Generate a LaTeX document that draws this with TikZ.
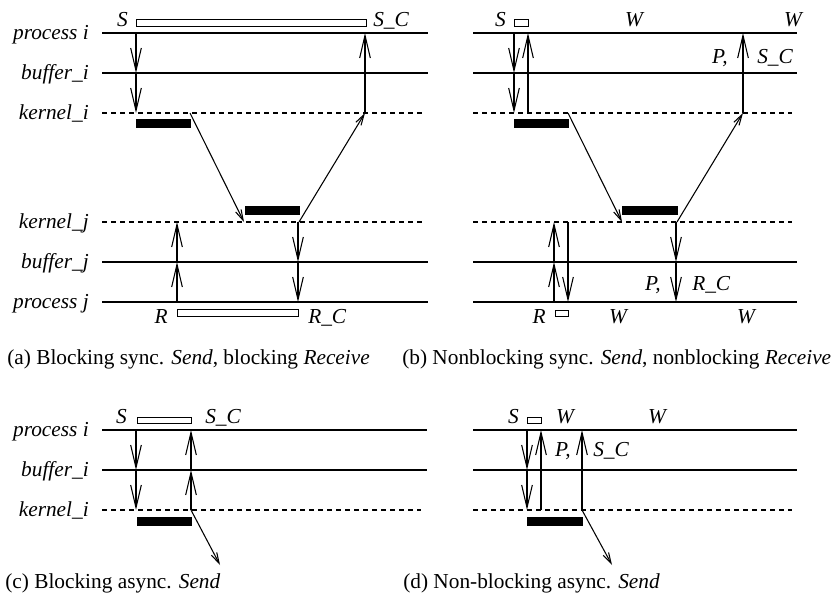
\documentclass[tikz,border=0pt]{standalone}
\usepackage{fontspec}
\setmainfont{Liberation Serif}
\usetikzlibrary{arrows.meta}

\begin{document}
\begin{tikzpicture}[x=0.75pt,y=0.75pt,yscale=-1,xscale=1,
	proc/.style={line width=1pt},
	kern/.style={line width=0.9pt, dash pattern=on 3.75pt off 3pt},
	msg/.style={line width=0.8pt, -{Straight Barb[length=17pt,width=8pt]}},
	net/.style={line width=0.8pt, -{Straight Barb[length=8pt,width=4.5pt]}},
	busy/.style={fill=black},
	idle/.style={draw, fill=white, line width=0.7pt},
	lbl/.style={font=\fontsize{16}{18}\selectfont\itshape, inner sep=0pt},
	capt/.style={font=\fontsize{16}{18}\selectfont, inner sep=0pt, anchor=base west}]
	\useasboundingbox (0,0) rectangle (839,600);
	
	%%% (a) blocking sync send, blocking receive
	%Straight Lines
	\draw [proc] (102,33) -- (428,33) ;
	\draw [proc] (102,73) -- (428,73) ;
	\draw [kern] (102,113) -- (422,113) ;
	\draw [kern] (102,222) -- (422,222) ;
	\draw [proc] (102,262) -- (428,262) ;
	\draw [proc] (102,302) -- (428,302) ;
	% Text Node
	\node (pia) [lbl, anchor=base east] at (89,39) {process i};
	\node (bia) [lbl, anchor=base east] at (89,79) {buffer\_i};
	\node (kia) [lbl, anchor=base east] at (89,119) {kernel\_i};
	\node (kja) [lbl, anchor=base east] at (89,228) {kernel\_j};
	\node (bja) [lbl, anchor=base east] at (89,268) {buffer\_j};
	\node (pja) [lbl, anchor=base east] at (89,308) {process j};
	%Shape: Rectangle
	\draw [idle] (136,19) rectangle (366,26) ;
	\draw [busy] (136,119) rectangle (190,127) ;
	\draw [busy] (245,206) rectangle (299,214) ;
	\draw [idle] (177,309) rectangle (298,316) ;
	%Arrows
	\draw [msg] (136,33) -- (136,73) ;
	\draw [msg] (136,73) -- (136,113) ;
	\draw [net] (190,113) -- (244,222) ;
	\draw [net] (299,222) -- (365,113) ;
	\draw [msg] (365,113) -- (365,33) ;
	\draw [msg] (177,302) -- (177,262) ;
	\draw [msg] (177,262) -- (177,222) ;
	\draw [msg] (298,222) -- (298,262) ;
	\draw [msg] (298,262) -- (298,302) ;
	% Text Node
	\node (sa) [lbl, anchor=base east] at (128,26) {S};
	\node (sca) [lbl, anchor=base west] at (373,26) {S\_C};
	\node (ra) [lbl, anchor=base east] at (168,323) {R};
	\node (rca) [lbl, anchor=base west] at (308,323) {R\_C};
	\node (capa) [capt] at (7,364) {(a) Blocking sync. \textit{Send}, blocking \textit{Receive}};
	
	%%% (b) nonblocking sync send, nonblocking receive
	%Straight Lines
	\draw [proc] (473,33) -- (797,33) ;
	\draw [proc] (473,73) -- (797,73) ;
	\draw [kern] (473,113) -- (792,113) ;
	\draw [kern] (473,222) -- (792,222) ;
	\draw [proc] (473,262) -- (797,262) ;
	\draw [proc] (473,302) -- (797,302) ;
	%Shape: Rectangle
	\draw [idle] (514,19) rectangle (528,26) ;
	\draw [busy] (514,119) rectangle (568,127) ;
	\draw [busy] (622,206) rectangle (677,214) ;
	\draw [idle] (555,310) rectangle (568,316) ;
	%Arrows
	\draw [msg] (514,33) -- (514,73) ;
	\draw [msg] (514,73) -- (514,113) ;
	\draw [msg] (528,113) -- (528,33) ;
	\draw [net] (568,113) -- (622,222) ;
	\draw [net] (677,222) -- (743,113) ;
	\draw [msg] (743,113) -- (743,33) ;
	\draw [msg] (554,302) -- (554,262) ;
	\draw [msg] (554,262) -- (554,222) ;
	\draw [msg] (568,222) -- (568,302) ;
	\draw [msg] (676,222) -- (676,262) ;
	\draw [msg] (676,262) -- (676,302) ;
	% Text Node
	\node (sb) [lbl, anchor=base east] at (506,26) {S};
	\node (wb1) [lbl, anchor=base] at (634,26) {W};
	\node (wb2) [lbl, anchor=base] at (793,26) {W};
	\node (pb1) [lbl, anchor=base east] at (728,63) {P,};
	\node (scb) [lbl, anchor=base west] at (757,63) {S\_C};
	\node (rb) [lbl, anchor=base east] at (546,323) {R};
	\node (wb3) [lbl, anchor=base] at (618,323) {W};
	\node (wb4) [lbl, anchor=base] at (746,323) {W};
	\node (pb2) [lbl, anchor=base east] at (661,290) {P,};
	\node (rcb) [lbl, anchor=base west] at (692,290) {R\_C};
	\node (capb) [capt] at (402,364) {(b) Nonblocking sync. \textit{Send}, nonblocking \textit{Receive}};
	
	%%% (c) blocking async send
	%Straight Lines
	\draw [proc] (102,430) -- (427,430) ;
	\draw [proc] (102,470) -- (427,470) ;
	\draw [kern] (102,510) -- (421,510) ;
	\node (pic) [lbl, anchor=base east] at (89,436) {process i};
	\node (bic) [lbl, anchor=base east] at (89,476) {buffer\_i};
	\node (kic) [lbl, anchor=base east] at (89,516) {kernel\_i};
	%Shape: Rectangle
	\draw [idle] (137,417) rectangle (191,423) ;
	\draw [busy] (137,517) rectangle (191,525) ;
	%Arrows
	\draw [msg] (136,430) -- (136,470) ;
	\draw [msg] (136,470) -- (136,510) ;
	\draw [msg] (191,510) -- (191,470) ;
	\draw [msg] (191,470) -- (191,430) ;
	\draw [net] (191,510) -- (220,565) ;
	% Text Node
	\node (sc) [lbl, anchor=base east] at (127,423) {S};
	\node (scc) [lbl, anchor=base west] at (205,423) {S\_C};
	\node (capc) [capt] at (5,588) {(c) Blocking async. \textit{Send}};
	
	%%% (d) non-blocking async send
	%Straight Lines
	\draw [proc] (473,430) -- (797,430) ;
	\draw [proc] (473,470) -- (797,470) ;
	\draw [kern] (473,510) -- (792,510) ;
	%Shape: Rectangle
	\draw [idle] (527,417) rectangle (541,423) ;
	\draw [busy] (527,517) rectangle (582,525) ;
	%Arrows
	\draw [msg] (527,430) -- (527,470) ;
	\draw [msg] (527,470) -- (527,510) ;
	\draw [msg] (541,510) -- (541,430) ;
	\draw [msg] (582,510) -- (582,430) ;
	\draw [net] (582,510) -- (612,565) ;
	% Text Node
	\node (sd) [lbl, anchor=base east] at (519,423) {S};
	\node (wd1) [lbl, anchor=base] at (565,423) {W};
	\node (wd2) [lbl, anchor=base] at (657,423) {W};
	\node (pd) [lbl, anchor=base east] at (571,456) {P,};
	\node (scd) [lbl, anchor=base west] at (593,456) {S\_C};
	\node (capd) [capt] at (403,588) {(d) Non-blocking async. \textit{Send}};
	
\end{tikzpicture}
\end{document}
